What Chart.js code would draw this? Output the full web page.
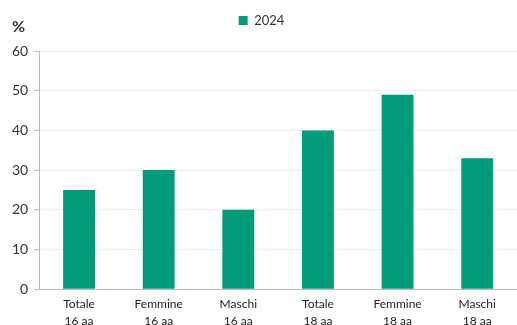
<!DOCTYPE html>
<html>
<head>
<meta charset="utf-8">
<script src="https://cdn.jsdelivr.net/npm/chart.js@4"></script>
<style>
  html, body { margin: 0; padding: 0; background: #fff; overflow: hidden; }
  #wrap { width: 517px; height: 336px; }
</style>
</head>
<body>
<div id="wrap"><canvas id="myChart"></canvas></div>
<script>
// categories and values
var categories = [
  ['Totale', '16 aa'], ['Femmine', '16 aa'], ['Maschi', '16 aa'],
  ['Totale', '18 aa'], ['Femmine', '18 aa'], ['Maschi', '18 aa']
];
var seriesName = '2024';
var values2024 = [25, 30, 20, 40, 49, 33];
var yTicks = [0, 10, 20, 30, 40, 50, 60];

var font = 'Lato, "Open Sans", sans-serif';

// draws the "%" unit label above the y axis
var unitLabel = {
  id: 'unitLabel',
  beforeInit: function(chart) {
    // leave extra room under the legend
    var fit = chart.legend.fit;
    chart.legend.fit = function() {
      fit.call(this);
      this.height += 14;
    };
  },
  afterDraw: function(chart) {
    var ctx = chart.ctx;
    var y = chart.scales.y;
    ctx.save();
    ctx.font = 'bold 16px ' + font;
    ctx.fillStyle = '#333';
    ctx.textBaseline = 'middle';
    ctx.fillText('%', 12, y.top - 24);
    ctx.restore();
  }
};

const bar = document.getElementById('myChart');

new Chart(bar, {
  type: 'bar',
  data: {
    labels: categories,
    datasets: [{
      label: seriesName,
      data: values2024,
      backgroundColor: '#009b78',
      borderWidth: 0,
      categoryPercentage: 1,
      barPercentage: 0.4
    }]
  },
  plugins: [unitLabel],
  options: {
    responsive: true,
    maintainAspectRatio: false,
    animation: false,
    layout: { padding: { top: 0, left: 6, right: 0, bottom: 0 } },
    plugins: {
      tooltip: { enabled: false },
      legend: {
        position: 'top',
        labels: {
          boxWidth: 9,
          boxHeight: 9,
          padding: 14,
          color: '#333',
          font: { family: font, size: 13 }
        }
      }
    },
    scales: {
      x: {
        grid: { display: false, drawTicks: false },
        border: { color: '#bbb' },
        ticks: {
          color: '#222',
          padding: 6,
          maxRotation: 0,
          font: { family: font, size: 12, lineHeight: 1.45 }
        }
      },
      y: {
        min: 0,
        max: 60,
        afterBuildTicks: function(scale) {
          scale.ticks = yTicks.map(function(v) { return { value: v }; });
        },
        grid: {
          color: '#ececec',
          tickLength: 5,
          tickColor: '#bbb'
        },
        border: { color: '#bbb' },
        ticks: {
          color: '#333',
          padding: 6,
          font: { family: font, size: 14 }
        }
      }
    }
  }
});
</script>
</body>
</html>
